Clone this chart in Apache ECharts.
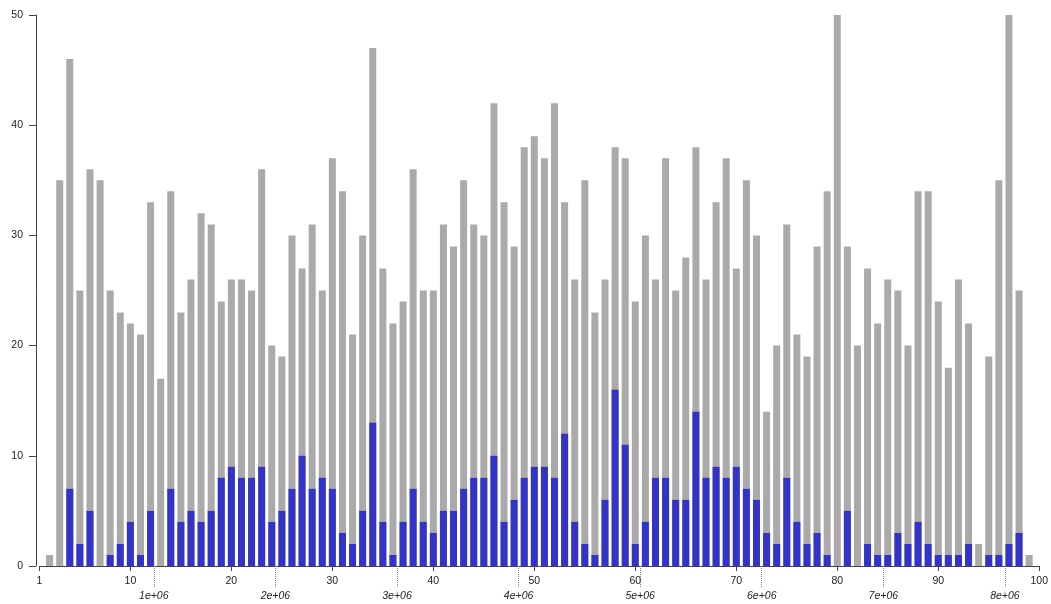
<!DOCTYPE html>
<html>
<head>
<meta charset="utf-8">
<script src="https://cdn.jsdelivr.net/npm/echarts@6/dist/echarts.min.js"></script>
<style>
  html, body { margin: 0; padding: 0; background: #fff; }
  #chart { width: 1051px; height: 604px; }
</style>
</head>
<body>
<div id="chart"></div>
<script>
// Bin numbers along the lower axis (bins 2..99 hold data)
const bins = [];
for (let b = 2; b <= 99; b++) bins.push(b);

// Total count per bin (grey bars)
const totalCounts = [
  1, 35, 46, 25, 36, 35, 25, 23, 22, 21,
  33, 17, 34, 23, 26, 32, 31, 24, 26, 26,
  25, 36, 20, 19, 30, 27, 31, 25, 37, 34,
  21, 30, 47, 27, 22, 24, 36, 25, 25, 31,
  29, 35, 31, 30, 42, 33, 29, 38, 39, 37,
  42, 33, 26, 35, 23, 26, 38, 37, 24, 30,
  26, 37, 25, 28, 38, 26, 33, 37, 27, 35,
  30, 14, 20, 31, 21, 19, 29, 34, 50, 29,
  20, 27, 22, 26, 25, 20, 34, 34, 24, 18,
  26, 22, 2, 19, 35, 50, 25, 1
];

// Subset count per bin (blue bars)
const subsetCounts = [
  0, 0, 7, 2, 5, 0, 1, 2, 4, 1,
  5, 0, 7, 4, 5, 4, 5, 8, 9, 8,
  8, 9, 4, 5, 7, 10, 7, 8, 7, 3,
  2, 5, 13, 4, 1, 4, 7, 4, 3, 5,
  5, 7, 8, 8, 10, 4, 6, 8, 9, 9,
  8, 12, 4, 2, 1, 6, 16, 11, 2, 4,
  8, 8, 6, 6, 14, 8, 9, 8, 9, 7,
  6, 3, 2, 8, 4, 2, 3, 1, 0, 5,
  0, 2, 1, 1, 3, 2, 4, 2, 1, 1,
  1, 2, 0, 1, 1, 2, 3, 0
];

// Tick marks
const binTicks = [1, 10, 20, 30, 40, 50, 60, 70, 80, 90, 100];
const countTicks = [0, 10, 20, 30, 40, 50];
const positionTicks = [1e6, 2e6, 3e6, 4e6, 5e6, 6e6, 7e6, 8e6];
const positionLabels = ['1e+06', '2e+06', '3e+06', '4e+06', '5e+06', '6e+06', '7e+06', '8e+06'];

// Genomic position range spanned by bins 1..100
const positionMin = 59900;
const positionMax = 8282400;

const font = '"Liberation Sans", Arial, sans-serif';
const axisColor = '#444';
const textColor = '#222';

const chart = echarts.init(document.getElementById('chart'), null, { renderer: 'canvas' });

chart.setOption({
  animation: false,
  backgroundColor: '#ffffff',
  grid: { left: 39.5, right: 10, top: 15, bottom: 38, containLabel: false },
  xAxis: [
    {
      type: 'value',
      min: 1,
      max: 100,
      position: 'bottom',
      axisLine: { show: true, lineStyle: { color: axisColor, width: 1 } },
      axisTick: { show: true, length: 5, lineStyle: { color: axisColor }, customValues: binTicks },
      axisLabel: {
        show: true, margin: 10, fontSize: 10.5, fontFamily: font, color: textColor,
        customValues: binTicks
      },
      splitLine: { show: false }
    },
    {
      type: 'value',
      min: positionMin,
      max: positionMax,
      position: 'bottom',
      axisLine: { show: false },
      axisTick: {
        show: true, length: 22, inside: false,
        lineStyle: { color: '#888', type: 'dotted', width: 1 },
        customValues: positionTicks
      },
      axisLabel: {
        show: true, margin: 25, fontSize: 10.5, fontStyle: 'italic',
        fontFamily: font, color: textColor,
        customValues: positionTicks,
        formatter: v => positionLabels[positionTicks.indexOf(v)]
      },
      splitLine: { show: false }
    }
  ],
  yAxis: {
    type: 'value',
    min: 0,
    max: 50,
    offset: 3.5,
    axisLine: { show: true, lineStyle: { color: axisColor, width: 1 } },
    axisTick: { show: true, length: 7, lineStyle: { color: axisColor }, customValues: countTicks },
    axisLabel: {
      show: true, margin: 13, fontSize: 10.5, fontFamily: font, color: textColor,
      customValues: countTicks
    },
    splitLine: { show: false }
  },
  series: [
    {
      name: 'total',
      type: 'bar',
      xAxisIndex: 0,
      barWidth: 7,
      itemStyle: { color: '#aaaaaa' },
      data: bins.map((b, i) => [b, totalCounts[i]])
    },
    {
      name: 'subset',
      type: 'bar',
      xAxisIndex: 0,
      barWidth: 7,
      barGap: '-100%',
      itemStyle: { color: '#3333c8' },
      data: bins.map((b, i) => [b, subsetCounts[i]])
    }
  ]
});
</script>
</body>
</html>
